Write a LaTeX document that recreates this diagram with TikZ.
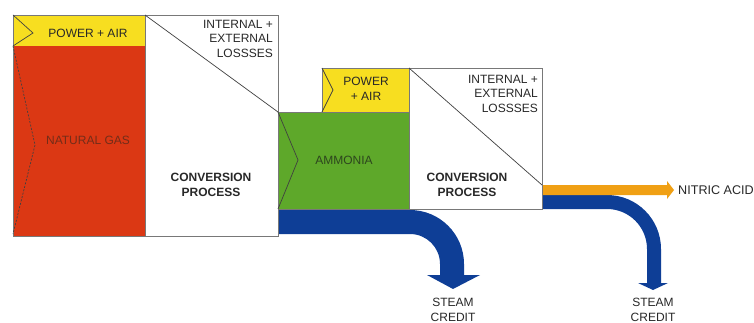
\documentclass[tikz,border=0pt]{standalone}
\usepackage{fontspec}
\setmainfont{Liberation Sans}
\definecolor{gasred}{RGB}{219,56,20}
\definecolor{pyellow}{RGB}{247,222,32}
\definecolor{agreen}{RGB}{94,168,42}
\definecolor{sblue}{RGB}{14,62,150}
\definecolor{norange}{RGB}{240,160,20}
\definecolor{edgegray}{RGB}{120,120,120}
\definecolor{txtgray}{RGB}{40,40,40}
\begin{document}
\begin{tikzpicture}[x=1pt,y=1pt,
  boxline/.style={draw=edgegray,line width=0.9pt},
  sepline/.style={draw=black!75,line width=0.7pt},
  lbl/.style={font=\fontsize{12}{15}\selectfont,text=txtgray,inner sep=0pt,align=center},
  lossl/.style={font=\fontsize{12}{14.5}\selectfont,text=txtgray,inner sep=0pt,align=right,anchor=north east},
  boldl/.style={font=\fontsize{12}{15}\selectfont\bfseries,text=txtgray,inner sep=0pt,align=center}]
\useasboundingbox (0,0) rectangle (754,-323);
\fill[white] (0,0) rectangle (754,-323);
% fills
\fill[gasred] (13,-46) rectangle (145,-236);
\fill[pyellow] (13,-15) rectangle (145,-46);
\fill[agreen] (278,-112) rectangle (409,-209);
\fill[pyellow] (322,-68) rectangle (409,-112);
% flows
\fill[sblue] (278,-210) -- (410,-210) arc[start angle=90,end angle=0,radius=54]
  -- (464,-275) -- (480,-275) -- (453,-289) -- (427,-275) -- (440,-275) -- (440,-264)
  arc[start angle=0,end angle=90,radius=30] -- (278,-234) -- cycle;
\fill[sblue] (542,-195) -- (607,-195) arc[start angle=90,end angle=0,radius=54]
  -- (661,-283) -- (668,-283) -- (653,-290) -- (638,-283) -- (647,-283) -- (647,-249)
  arc[start angle=0,end angle=90,radius=40] -- (542,-209) -- cycle;
\fill[norange] (542,-185) -- (667,-185) -- (667,-181) -- (674,-190) -- (667,-199) -- (667,-195) -- (542,-195) -- cycle;
% outlines
\draw[boxline] (13,-15) rectangle (145,-236);
\draw[boxline] (145,-15) rectangle (278,-236);
\draw[boxline] (278,-112) rectangle (409,-209);
\draw[boxline] (322,-68) rectangle (409,-112);
\draw[boxline] (409,-68) rectangle (542,-209);
% separators
\draw[sepline] (13,-15) -- (33,-33) -- (13,-46);
\draw[sepline,dashed,dash pattern=on 2pt off 1.5pt] (13,-46) -- (35,-145) -- (13,-234);
\draw[sepline] (145,-15) -- (278,-112);
\draw[sepline] (278,-112) -- (298,-160) -- (278,-209);
\draw[sepline] (322,-68) -- (333,-90) -- (322,-112);
\draw[sepline] (409,-68) -- (542,-185);
% labels
\node[lbl] (pa1) at (88,-33) {POWER + AIR};
\node[lossl] (loss1) at (273,-20) {INTERNAL +\\EXTERNAL\\LOSSSES};
\node[lbl,text={rgb,255:red,115;green,45;blue,25}] (gas) at (88,-140) {NATURAL GAS};
\node[boldl] (conv1) at (211,-185) {CONVERSION\\PROCESS};
\node[lbl,text={rgb,255:red,45;green,70;blue,30}] (amm) at (344,-160) {AMMONIA};
\node[lbl] (pa2) at (366,-89) {POWER\\+ AIR};
\node[lossl] (loss2) at (538,-75) {INTERNAL +\\EXTERNAL\\LOSSSES};
\node[boldl] (conv2) at (467,-185) {CONVERSION\\PROCESS};
\node[lbl,anchor=west,font=\fontsize{12.6}{15}\selectfont] (nitric) at (678,-190) {NITRIC ACID};
\node[lbl,anchor=north] (steam1) at (453,-298) {STEAM\\CREDIT};
\node[lbl,anchor=north] (steam2) at (653,-298) {STEAM\\CREDIT};
\end{tikzpicture}
\end{document}
